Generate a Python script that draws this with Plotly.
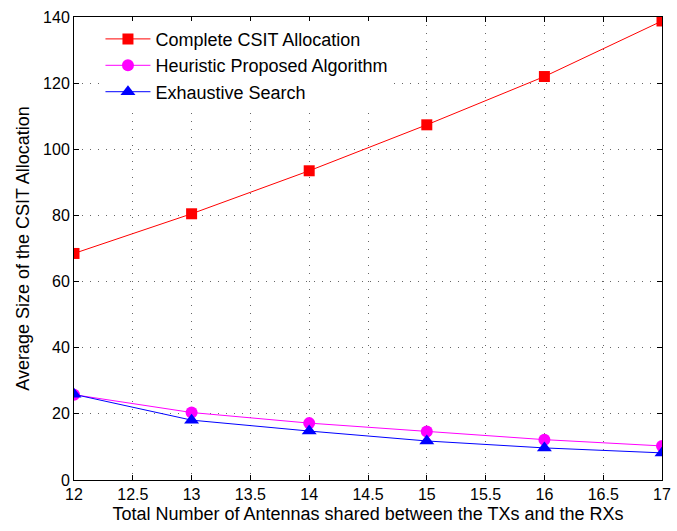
import plotly.graph_objects as go

antennas = [12, 13, 14, 15, 16, 17]
complete_csit = [68.5, 80.5, 93.5, 107.4, 122.0, 138.8]
heuristic = [25.8, 20.4, 17.2, 14.7, 12.2, 10.3]
exhaustive = [25.9, 18.1, 14.8, 11.8, 9.7, 8.2]

x_ticks = [12, 12.5, 13, 13.5, 14, 14.5, 15, 15.5, 16, 16.5, 17]
y_ticks = [0, 20, 40, 60, 80, 100, 120, 140]

FONT = "Liberation Sans, Arial, Helvetica, sans-serif"

fig = go.Figure()
fig.add_trace(go.Scatter(x=antennas, y=complete_csit, mode="lines+markers",
                         name="Complete CSIT Allocation",
                         line=dict(color="#FF0000", width=1),
                         marker=dict(symbol="square", size=11, color="#FF0000")))
fig.add_trace(go.Scatter(x=antennas, y=heuristic, mode="lines+markers",
                         name="Heuristic Proposed Algorithm",
                         line=dict(color="#FF00FF", width=1),
                         marker=dict(symbol="circle", size=12, color="#FF00FF")))
fig.add_trace(go.Scatter(x=antennas, y=exhaustive, mode="lines+markers",
                         name="Exhaustive Search",
                         line=dict(color="#0000FF", width=1),
                         marker=dict(symbol="triangle-up", size=13, color="#0000FF")))

axis_common = dict(
    showline=True, linecolor="black", linewidth=1, mirror="ticks",
    ticks="inside", ticklen=5, tickcolor="black",
    showgrid=True, gridcolor="#666666", griddash="1px,7px", gridwidth=1,
    zeroline=False, automargin=False,
    tickfont=dict(family=FONT, size=16, color="black"),
)

fig.update_layout(
    width=677, height=531,
    margin=dict(l=74, r=15, t=17, b=51),
    paper_bgcolor="white", plot_bgcolor="white",
    font=dict(family=FONT, size=16, color="black"),
    xaxis=dict(range=[12, 17], tickvals=x_ticks,
               ticktext=[f"{v:g}" for v in x_ticks],
               title=dict(text="Total Number of Antennas shared between the TXs and the RXs",
                          font=dict(family=FONT, size=18), standoff=5),
               **axis_common),
    yaxis=dict(range=[0, 140], tickvals=y_ticks,
               title=dict(text="Average Size of the CSIT Allocation",
                          font=dict(family=FONT, size=18), standoff=8),
               **axis_common),
    legend=dict(x=0.045, y=0.992, xanchor="left", yanchor="top",
                bgcolor="white", borderwidth=0,
                font=dict(family=FONT, size=18, color="black"),
                itemwidth=45, tracegroupgap=0),
    showlegend=True,
)

fig.write_html("out.html")
